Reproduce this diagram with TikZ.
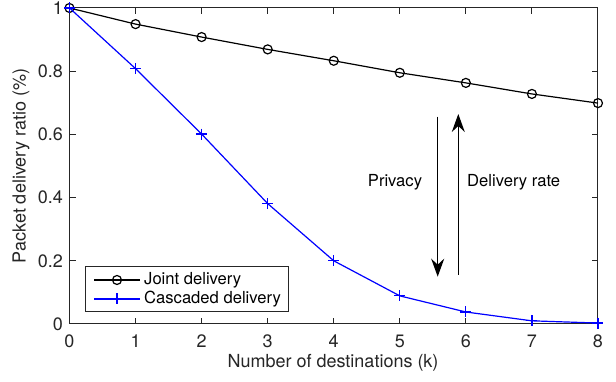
\documentclass[tikz,border=0pt]{standalone}
\usepackage{fontspec}
\setmainfont{TeX Gyre Heros}
\usepackage{xcolor}
\definecolor{cAxis}{HTML}{262626}
\definecolor{cJoint}{HTML}{000000}
\definecolor{cCascade}{HTML}{0000FF}
\usepackage{tikz}
\usetikzlibrary{arrows.meta,plotmarks}
\tikzset{
  axis-box/.style={draw=cAxis,line width=1pt},
  axis-tick/.style={draw=cAxis,line width=1pt},
  tick-label/.style={font=\fontsize{18}{20}\selectfont,text=cAxis,inner sep=0pt},
  axis-label/.style={font=\fontsize{18}{20}\selectfont,text=cAxis,inner sep=0pt},
  note-label/.style={font=\fontsize{16.6}{19}\selectfont,inner sep=0pt},
  legend-box/.style={draw=cAxis,line width=1pt,fill=white},
  line-joint/.style={color=cJoint,line width=1.2pt,mark=o,mark size=4.5pt,
    mark options={draw=cJoint,line width=1.2pt}},
  line-cascade/.style={color=cCascade,line width=1.2pt,mark=+,mark size=5.5pt,
    mark options={draw=cCascade,line width=1.2pt}},
  arrow-note/.style={-{Stealth[length=18pt,width=13pt,inset=6pt]},line width=1.3pt},
}

\begin{document}
\begin{tikzpicture}[x=1pt,y=1pt]
  \useasboundingbox[fill=white] (0,0) rectangle (616,382);
  \begin{scope}[shift={(69.5,58)},x=66.06pt,y=316pt]
    % axes with inward ticks on all sides
    \draw[axis-box] (0,0) rectangle (8,1);
    \foreach \k in {1,...,7} {
      \draw[axis-tick] (\k,0) -- ++(0,6pt);
      \draw[axis-tick] (\k,1) -- ++(0,-6pt);
    }
    \foreach \v in {0.2,0.4,0.6,0.8} {
      \draw[axis-tick] (0,\v) -- ++(6pt,0);
      \draw[axis-tick] (8,\v) -- ++(-6pt,0);
    }
    \foreach \k in {0,...,8}
      \node[tick-label,anchor=north,yshift=-10.5pt] (xt\k) at (\k,0) {\k};
    \foreach \v/\t in {0/0,0.2/0.2,0.4/0.4,0.6/0.6,0.8/0.8,1/1}
      \node[tick-label,anchor=east,xshift=-6.5pt] at (0,\v) {\t};
    % data
    \draw[line-joint] plot coordinates {(0,1) (1,0.949) (2,0.908) (3,0.869)
      (4,0.833) (5,0.795) (6,0.763) (7,0.728) (8,0.699)};
    \draw[line-cascade] plot coordinates {(0,1) (1,0.808) (2,0.601) (3,0.381)
      (4,0.2) (5,0.089) (6,0.038) (7,0.01) (8,0.003)};
  \end{scope}
  \node[axis-label] (xlabel) at (333,19) {Number of destinations (k)};
  \node[axis-label,rotate=90] (ylabel) at (21,216) {Packet delivery ratio (\%)};
  % annotation arrows
  \coordinate (priv-top) at (437.7,265.3);
  \coordinate (priv-end) at (437.7,105.3);
  \coordinate (rate-low) at (458.3,107);
  \coordinate (rate-end) at (458.3,268);
  \draw[arrow-note] (priv-top) -- (priv-end);
  \draw[arrow-note] (rate-low) -- (rate-end);
  \node[note-label] (privacy) at (395,200) {Privacy};
  \node[note-label,anchor=west] (rate) at (467,200) {Delivery rate};
  % legend
  \draw[legend-box] (85,70) rectangle (288,115);
  \draw[line-joint,mark phase=2,mark repeat=2] plot coordinates {(94,102) (117,102) (140,102)};
  \draw[line-cascade,mark phase=2,mark repeat=2] plot coordinates {(94,83) (117,83) (140,83)};
  \node[note-label,anchor=west] (leg-joint) at (144,102) {Joint delivery};
  \node[note-label,anchor=west] (leg-cascade) at (144,83) {Cascaded delivery};
\end{tikzpicture}
\end{document}
